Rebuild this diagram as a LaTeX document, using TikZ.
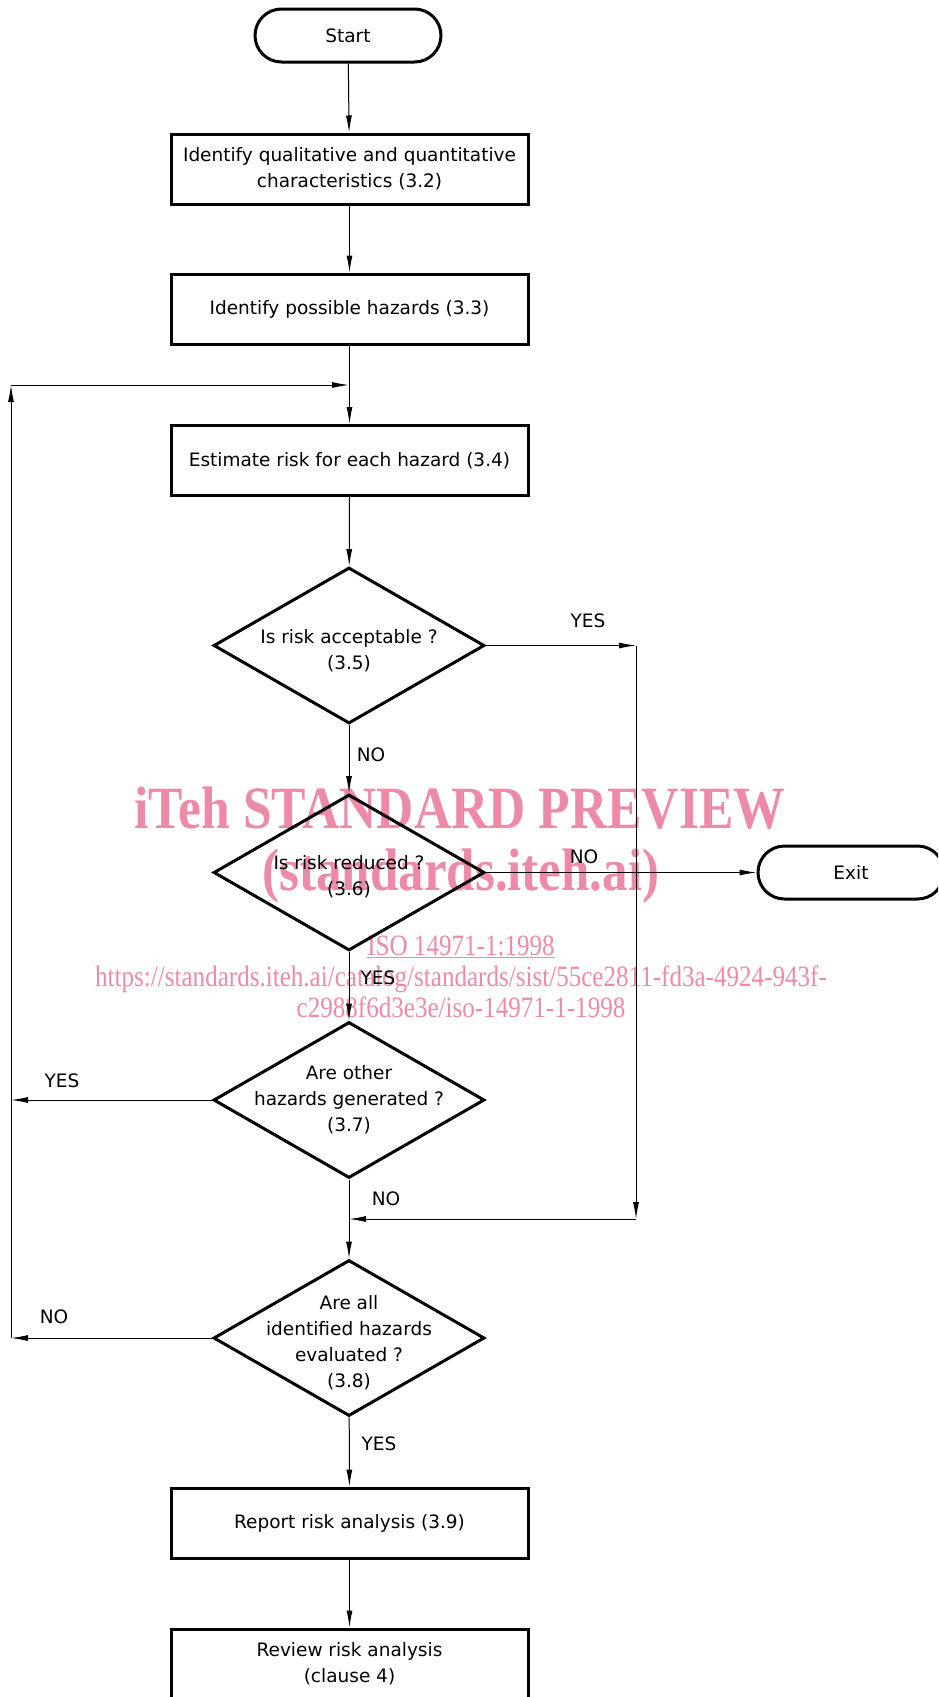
\documentclass[tikz,border=0pt]{standalone}
\usepackage{fontspec}
\setmainfont{DejaVu Sans}
\newfontfamily\wmfont{Liberation Serif}
\usetikzlibrary{shapes.geometric,shapes.misc,arrows.meta}
\definecolor{wmpink}{RGB}{236,138,168}
\tikzset{
  txt/.style={font=\fontsize{18.5}{26}\selectfont, align=center},
  box/.style={txt, draw, line width=3pt, minimum width=357pt, minimum height=70pt, inner sep=0pt},
  term/.style={txt, draw, line width=3pt, rounded rectangle, minimum width=186pt, minimum height=53pt, inner sep=0pt},
  dec/.style={draw, diamond, line width=3pt, minimum width=271pt, minimum height=156pt, inner sep=0pt},
  dectext/.style 2 args={label={[txt, inner sep=0pt, yshift=#1]center:#2}},
  conn/.style={line width=1pt, -{Latex[length=17pt,width=6pt]}},
  lbl/.style={txt, inner sep=0pt},
  wmbig/.style={text=wmpink, inner sep=0pt, anchor=base, font=\wmfont\bfseries\fontsize{60}{60}\selectfont},
  wmsmall/.style={text=wmpink, inner sep=0pt, anchor=base, font=\wmfont\fontsize{29.5}{30}\selectfont},
}
\begin{document}
\begin{tikzpicture}[x=1pt,y=-1pt]
\useasboundingbox (0,0) rectangle (938,1697);
\clip (0,0) rectangle (938,1697);
% watermark (behind)
\node[wmbig] (wm1) at (460,828) {\scalebox{0.86}[1]{iTeh STANDARD PREVIEW}};
\node[wmbig] (wm2) at (461,890) {\scalebox{0.85}[1]{(standards.iteh.ai)}};
\node[wmsmall] (wm3) at (461,955) {\scalebox{0.85}[1]{\underline{ISO 14971-1:1998}}};
\node[wmsmall] (wm4) at (461,986) {\scalebox{0.85}[1]{https://standards.iteh.ai/catalog/standards/sist/55ce2811-fd3a-4924-943f-}};
\node[wmsmall] (wm5) at (461,1017) {\scalebox{0.85}[1]{c2988f6d3e3e/iso-14971-1-1998}};

% nodes
\node[term] (start) at (348,35.5) {Start};
\node[box] (b1) at (349.5,169) {Identify qualitative and quantitative\\characteristics (3.2)};
\node[box] (b2) at (349.5,309) {Identify possible hazards (3.3)};
\node[box] (b3) at (349.5,460.5) {Estimate risk for each hazard (3.4)};
\node[dec, dectext={-5pt}{Is risk acceptable ?\\(3.5)}] (d1) at (349,645.5) {};
\node[dec, dectext={-4pt}{Is risk reduced ?\\(3.6)}] (d2) at (349,872.5) {};
\node[term, minimum width=186pt] (exit) at (851,872.5) {Exit};
\node[dec, dectext={0pt}{Are other\\hazards generated ?\\(3.7)}] (d3) at (349,1100) {};
\node[dec, dectext={-5pt}{Are all\\identified hazards\\evaluated ?\\(3.8)}] (d4) at (349,1338) {};
\node[box] (b4) at (349.5,1523) {Report risk analysis (3.9)};
\node[box] (b5) at (349.5,1664) {Review risk analysis\\(clause 4)};

% helper coordinates
\coordinate (j1) at (349,385);
\coordinate (lc1) at (11,385);
\coordinate (l3) at (11,1100);
\coordinate (l4) at (11,1338);
\coordinate (r1) at (636,645.5);
\coordinate (r2) at (636,1219);
\coordinate (j2) at (349,1219);

% connectors
\draw[conn] (start) -- (b1);
\draw[conn] (b1) -- (b2);
\draw[conn] (b2) -- (b3);
\draw[conn] (b3) -- (d1);
\draw[conn] (d1) -- (d2);
\draw[conn] (d2) -- (d3);
\draw[conn] (d3) -- (d4);
\draw[conn] (d4) -- (b4);
\draw[conn] (b4) -- (b5);
\draw[conn] (d2.east) -- (exit);
\draw[conn] (d1.east) -- (r1);
\draw[conn] (r1) -- (r2);
\draw[conn] (r2) -- (j2);
\draw[conn] (d3.west) -- (l3);
\draw[conn] (d4.west) -- (l4);
\draw[conn] (l4) -- (lc1);
\draw[conn] (lc1) -- (j1);

% labels
\node[lbl] (yes1) at (588,621) {YES};
\node[lbl] (no1) at (371,755) {NO};
\node[lbl] (no2) at (584,857) {NO};
\node[lbl] (yes2) at (378,978) {YES};
\node[lbl] (yes3) at (62,1081) {YES};
\node[lbl] (no3) at (386,1199) {NO};
\node[lbl] (no4) at (54,1317) {NO};
\node[lbl] (yes4) at (379,1444) {YES};
\end{tikzpicture}
\end{document}
